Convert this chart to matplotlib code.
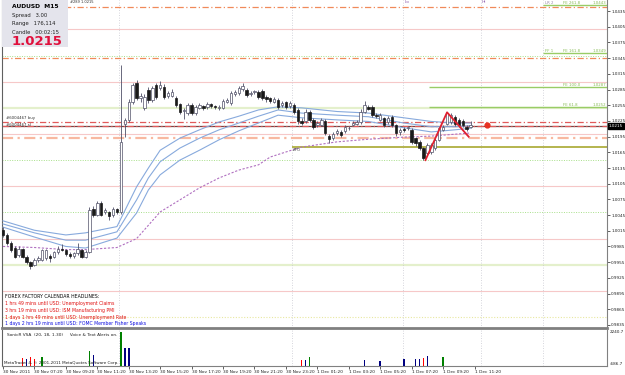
import matplotlib
matplotlib.use("Agg")
import matplotlib.pyplot as plt
import matplotlib.transforms as mtransforms
from matplotlib.patches import Rectangle

plt.rcParams["font.family"] = ["DejaVu Sans"]

# --- AUDUSD M15 candles (open, high, low, close) ---
opens = [1.0016, 1.0007, 0.9992, 0.9982, 0.9968, 0.9980, 0.9965, 0.9955, 0.9950, 0.9959,
         0.9960, 0.9962, 0.9966, 0.9965, 0.9974, 0.9980, 0.9978, 0.9970, 0.9967, 0.9972,
         0.9978, 0.9965, 0.9975, 1.0057, 1.0046, 1.0068, 1.0050, 1.0050, 1.0045, 1.0057,
         1.0050, 1.0220, 1.0227, 1.0262, 1.0297, 1.0269, 1.0250, 1.0284, 1.0265, 1.0294,
         1.0288, 1.0290, 1.0272, 1.0273, 1.0269, 1.0257, 1.0244, 1.0240, 1.0255, 1.0240,
         1.0250, 1.0253, 1.0251, 1.0257, 1.0253, 1.0250, 1.0250, 1.0262, 1.0259, 1.0276,
         1.0278, 1.0286, 1.0284, 1.0276, 1.0280, 1.0280, 1.0282, 1.0271, 1.0268, 1.0262,
         1.0265, 1.0255, 1.0261, 1.0253, 1.0256, 1.0246, 1.0225, 1.0225, 1.0243, 1.0227,
         1.0217, 1.0218, 1.0224, 1.0196, 1.0192, 1.0202, 1.0204, 1.0205, 1.0211, 1.0218,
         1.0220, 1.0223, 1.0243, 1.0251, 1.0252, 1.0237, 1.0227, 1.0230, 1.0223, 1.0233,
         1.0217, 1.0203, 1.0210, 1.0211, 1.0208, 1.0192, 1.0185, 1.0173, 1.0163, 1.0166,
         1.0173, 1.0189, 1.0208, 1.0220, 1.0222, 1.0233, 1.0227, 1.0225, 1.0214, 1.0214]
highs = [1.0022, 1.0010, 0.9995, 0.9986, 0.9985, 0.9983, 0.9968, 0.9957, 0.9962, 0.9966,
         0.9980, 0.9980, 0.9970, 0.9977, 0.9985, 0.9990, 0.9981, 0.9974, 0.9975, 0.9992,
         0.9981, 0.9978, 1.0060, 1.0062, 1.0072, 1.0071, 1.0058, 1.0053, 1.0060, 1.0059,
         1.0332, 1.0231, 1.0266, 1.0298, 1.0303, 1.0279, 1.0276, 1.0289, 1.0292, 1.0298,
         1.0301, 1.0295, 1.0283, 1.0286, 1.0273, 1.0260, 1.0250, 1.0260, 1.0259, 1.0255,
         1.0259, 1.0256, 1.0261, 1.0260, 1.0256, 1.0256, 1.0267, 1.0269, 1.0282, 1.0284,
         1.0291, 1.0297, 1.0288, 1.0283, 1.0285, 1.0284, 1.0286, 1.0275, 1.0271, 1.0271,
         1.0268, 1.0264, 1.0264, 1.0264, 1.0259, 1.0249, 1.0230, 1.0247, 1.0246, 1.0230,
         1.0225, 1.0231, 1.0228, 1.0200, 1.0204, 1.0209, 1.0207, 1.0218, 1.0216, 1.0224,
         1.0226, 1.0247, 1.0264, 1.0256, 1.0255, 1.0241, 1.0240, 1.0233, 1.0234, 1.0236,
         1.0220, 1.0212, 1.0214, 1.0216, 1.0211, 1.0195, 1.0188, 1.0176, 1.0182, 1.0183,
         1.0192, 1.0214, 1.0217, 1.0242, 1.0240, 1.0237, 1.0230, 1.0228, 1.0217, 1.0224]
lows = [1.0004, 0.9988, 0.9975, 0.9962, 0.9964, 0.9962, 0.9952, 0.9942, 0.9947, 0.9955,
        0.9957, 0.9960, 0.9955, 0.9962, 0.9971, 0.9976, 0.9967, 0.9963, 0.9963, 0.9969,
        0.9962, 0.9962, 0.9972, 1.0042, 1.0043, 1.0043, 1.0047, 1.0036, 1.0042, 1.0047,
        1.0047, 1.0194, 1.0222, 1.0258, 1.0265, 1.0262, 1.0246, 1.0260, 1.0261, 1.0267,
        1.0284, 1.0266, 1.0268, 1.0270, 1.0251, 1.0238, 1.0228, 1.0236, 1.0236, 1.0237,
        1.0247, 1.0246, 1.0248, 1.0249, 1.0247, 1.0246, 1.0247, 1.0259, 1.0256, 1.0273,
        1.0275, 1.0283, 1.0271, 1.0272, 1.0277, 1.0267, 1.0265, 1.0262, 1.0259, 1.0259,
        1.0248, 1.0251, 1.0248, 1.0250, 1.0238, 1.0220, 1.0217, 1.0221, 1.0223, 1.0210,
        1.0213, 1.0215, 1.0198, 1.0182, 1.0188, 1.0198, 1.0195, 1.0202, 1.0208, 1.0215,
        1.0217, 1.0220, 1.0240, 1.0245, 1.0232, 1.0230, 1.0224, 1.0213, 1.0220, 1.0213,
        1.0197, 1.0199, 1.0203, 1.0208, 1.0181, 1.0178, 1.0169, 1.0150, 1.0158, 1.0162,
        1.0170, 1.0186, 1.0205, 1.0217, 1.0219, 1.0216, 1.0213, 1.0213, 1.0206, 1.0211]
closes = [1.0007, 0.9992, 0.9978, 0.9965, 0.9980, 0.9965, 0.9955, 0.9948, 0.9959, 0.9963,
          0.9978, 0.9978, 0.9963, 0.9974, 0.9980, 0.9978, 0.9970, 0.9966, 0.9972, 0.9980,
          0.9965, 0.9975, 1.0055, 1.0046, 1.0068, 1.0046, 1.0055, 1.0043, 1.0057, 1.0050,
          1.0185, 1.0227, 1.0262, 1.0294, 1.0269, 1.0273, 1.0271, 1.0265, 1.0288, 1.0271,
          1.0294, 1.0271, 1.0278, 1.0281, 1.0255, 1.0242, 1.0246, 1.0255, 1.0240, 1.0251,
          1.0255, 1.0250, 1.0257, 1.0253, 1.0251, 1.0252, 1.0263, 1.0265, 1.0278, 1.0280,
          1.0288, 1.0292, 1.0275, 1.0279, 1.0282, 1.0271, 1.0269, 1.0266, 1.0263, 1.0267,
          1.0252, 1.0260, 1.0252, 1.0260, 1.0242, 1.0224, 1.0221, 1.0243, 1.0227, 1.0214,
          1.0221, 1.0227, 1.0202, 1.0191, 1.0200, 1.0206, 1.0199, 1.0214, 1.0212, 1.0221,
          1.0223, 1.0243, 1.0255, 1.0248, 1.0236, 1.0234, 1.0236, 1.0217, 1.0230, 1.0217,
          1.0201, 1.0208, 1.0207, 1.0213, 1.0185, 1.0182, 1.0173, 1.0154, 1.0179, 1.0179,
          1.0189, 1.0211, 1.0213, 1.0240, 1.0236, 1.0220, 1.0217, 1.0217, 1.0210, 1.0217]

# SonicR dragon (three blue EMAs) read at a few bars
ma_bars = [0, 8, 16, 21, 29, 34, 37, 40, 45, 50, 55, 60, 65, 70, 76, 85, 93, 102, 109, 115, 119]
ma_high = [1.0034, 1.0016, 1.0007, 1.0011, 1.0023, 1.0099, 1.0135, 1.0169, 1.0192, 1.0208, 1.0223,
           1.0234, 1.0246, 1.0252, 1.0250, 1.0243, 1.0240, 1.0231, 1.0224, 1.0221, 1.0221]
ma_mid = [1.0028, 1.0011, 0.9997, 0.9997, 1.0013, 1.0074, 1.0116, 1.0147, 1.0173, 1.0192, 1.0208,
          1.0221, 1.0234, 1.0246, 1.0240, 1.0236, 1.0233, 1.0221, 1.0214, 1.0214, 1.0216]
ma_low = [1.0022, 1.0003, 0.9985, 0.9982, 1.0001, 1.0049, 1.0093, 1.0122, 1.0150, 1.0169, 1.0189,
          1.0206, 1.0221, 1.0236, 1.0231, 1.0227, 1.0224, 1.0212, 1.0204, 1.0208, 1.0211]
# slow purple EMA
slow_bars = [0, 8, 16, 21, 29, 34, 40, 45, 50, 55, 60, 65, 68, 73, 76, 85, 93, 102, 109, 119]
slow_ma = [0.9985, 0.9983, 0.9979, 0.9979, 0.9983, 1.0000, 1.0051, 1.0074, 1.0097, 1.0116,
           1.0131, 1.0141, 1.0156, 1.0168, 1.0175, 1.0185, 1.0190, 1.0194, 1.0196, 1.0202]

# zigzag swing points
zz_bars = [107.5, 113, 118.5]
zz_prices = [1.0150, 1.02415, 1.01948]

# SonicR VSA volume bars (bar index, value, colour)
vol_bars = [5, 6, 7, 8, 10, 22, 23, 30, 31, 32, 76, 77, 78, 92, 96, 102, 105, 106, 107, 108, 112]
vol_values = [-60, -117, 9, -93, 9, 533, 208, 2102, 802, 777, -198, -198, 9, -198, -255,
              -141, -120, -100, -36, 151, 70]
vol_colors = ["red", "navy", "red", "red", "green", "green", "navy", "green", "navy", "navy",
              "red", "navy", "green", "navy", "navy", "navy", "navy", "navy", "red", "navy", "green"]

price_ticks = [0.9835, 0.9865, 0.9895, 0.9925, 0.9955, 0.9985, 1.0015, 1.0045, 1.0075, 1.0105,
               1.0135, 1.0165, 1.0195, 1.0225, 1.0255, 1.0285, 1.0315, 1.0345, 1.0375, 1.0405, 1.0435]
date_ticks = [0, 8, 16, 24, 32, 40, 48, 56, 64, 72, 80, 88, 96, 104, 112, 120]
date_labels = ["30 Nov 2011", "30 Nov 07:20", "30 Nov 09:20", "30 Nov 11:20", "30 Nov 13:20",
               "30 Nov 15:20", "30 Nov 17:20", "30 Nov 19:20", "30 Nov 21:20", "30 Nov 23:20",
               "1 Dec 01:20", "1 Dec 03:20", "1 Dec 05:20", "1 Dec 07:20", "1 Dec 09:20", "1 Dec 11:20"]

headlines = [
    ("FOREX FACTORY CALENDAR HEADLINES:", "black"),
    ("1 hrs 49 mins until USD: Unemployment Claims", "#e01010"),
    ("3 hrs 19 mins until USD: ISM Manufacturing PMI", "#e01010"),
    ("1 days 1 hrs 49 mins until USD: Unemployment Rate", "#e01010"),
    ("1 days 2 hrs 19 mins until USD: FOMC Member Fisher Speaks", "#1010e0"),
]

last_price = 1.0215
XMIN, XMAX = -0.25, 153.7
YMIN, YMAX = 0.98291, 1.04562

W, H = 625, 375
fig = plt.figure(figsize=(6.25, 3.75), dpi=100)
fig.patch.set_facecolor("white")
ax = fig.add_axes([2 / W, 47 / H, 605 / W, 328 / H])
axv = fig.add_axes([2 / W, 9 / H, 605 / W, 36 / H])

for a in (ax, axv):
    a.set_xlim(XMIN, XMAX)
    a.set_facecolor("white")
    for s in ("top",):
        a.spines[s].set_visible(False)
    a.spines["left"].set_color("#606060")
    a.spines["right"].set_color("#808080")
    a.spines["left"].set_linewidth(0.8)
    a.spines["right"].set_linewidth(0.8)

ax.set_ylim(YMIN, YMAX)
ax.spines["bottom"].set_color("#808080")
ax.spines["bottom"].set_linewidth(2)

# horizontal levels
ax_full = dict(xmin=0, xmax=1)
for lvl in (1.04, 1.03, 1.02, 1.01, 1.00, 0.99):
    ax.axhline(lvl, color="#f6c8c8", lw=0.8, zorder=1)
for lvl in (1.035, 1.015, 1.005):
    ax.axhline(lvl, color="#a8e08a", lw=0.7, ls=(0, (1, 1.5)), zorder=1)
for lvl in (1.025, 0.995):
    ax.axhline(lvl, color="#e4f0cc", lw=1.6, zorder=1)
ax.axhline(0.985, color="#e8e8a0", lw=0.8, ls=(0, (1, 1.5)), zorder=1)
for lvl in (1.0443, 1.0345):
    ax.axhline(lvl, color="#f08a5a", lw=0.9, ls=(0, (5, 2, 1, 2)), zorder=2)
ax.axhline(1.01933, color="#f8b8a0", lw=1.6, ls=(0, (5, 2, 1, 2)), zorder=2)
ax.axhline(last_price, color="#704848", lw=0.9, zorder=2)
for lvl in (1.0222, 1.0215):
    ax.axhline(lvl, color="#e05a5a", lw=0.9, ls=(0, (5, 2, 1, 2)), zorder=2)
ax.hlines(1.01757, 73.5, XMAX, color="#a8a830", lw=1.2, zorder=2)

# fibonacci expansion lines
ax.hlines([1.0446, 1.0354], 137.4, XMAX, color="#99cc66", lw=1.0, zorder=3)
ax.hlines([1.0289, 1.0252], 108.4, XMAX, color="#99cc66", lw=1.0, zorder=3)
fe_style = dict(fontsize=2.8, color="#88bb55", va="bottom")
ax.text(138, 1.0446, "LR 2", fontsize=2.8, color="#9988aa", va="bottom")
ax.text(142.5, 1.0446, "FE 261.8", **fe_style)
ax.text(150, 1.0446, "1.0443", **fe_style)
ax.text(138, 1.0354, "FF 1", **fe_style)
ax.text(142.5, 1.0354, "FE 161.8", **fe_style)
ax.text(150, 1.0354, "1.0349", **fe_style)
ax.text(142.5, 1.0289, "FE 100.0", **fe_style)
ax.text(150, 1.0289, "1.0287", **fe_style)
ax.text(142.5, 1.0252, "FE 61.8", **fe_style)
ax.text(150, 1.0252, "1.0252", **fe_style)

# vertical dotted separators
for vx in (29.5, 73.5, 101.8, 121.6, 137.4):
    for a in (ax, axv):
        a.axvline(vx, color="#c8c8d0", lw=0.6, ls=(0, (1, 2)), zorder=1)

# moving averages
for ma in (ma_high, ma_mid, ma_low):
    ax.plot(ma_bars, ma, color="#88aadd", lw=0.8, zorder=3)
ax.plot(slow_bars, slow_ma, color="#b070c0", lw=0.8, ls=(0, (2, 1.5)), zorder=3)

# candles
xs = list(range(len(opens)))
ax.vlines(xs, lows, highs, color="#505068", lw=0.6, zorder=4)
for i, (o, c) in enumerate(zip(opens, closes)):
    bottom = min(o, c)
    height = max(abs(c - o), 0.00012)
    bull = c >= o
    ax.bar(i, height, bottom=bottom, width=0.62,
           color="white" if bull else "#1a1a1a",
           edgecolor="#505068" if bull else "#1a1a1a", linewidth=0.5, zorder=5)

# zigzag and marker
ax.plot(zz_bars, zz_prices, color="#e02030", lw=1.3, zorder=6)
ax.plot([123.2], [1.0217], "o", color="#e83020", ms=3.5, zorder=6)

# order labels and misc text
ax.text(0.8, 1.0226, "#6004467 buy", fontsize=2.8, color="#303030", va="bottom", zorder=7)
ax.text(0.8, 1.0213, "#6004467 sl", fontsize=2.8, color="#303030", va="bottom", zorder=7)
ax.text(73.8, 1.0174, "ZPO", fontsize=2.8, color="#404040", va="top", zorder=7)
ax.text(102.2, 1.0448, "Lo", fontsize=3.2, color="#9060b0", va="bottom")
ax.text(121.9, 1.0448, "Hi", fontsize=3.2, color="#9060b0", va="bottom")
ax.text(17, 1.0448, "#289 1.0215", fontsize=2.6, color="#303030", va="bottom")

# price axis
ax.yaxis.tick_right()
ax.set_yticks(price_ticks)
ax.set_yticklabels([f"{t:.4f}" for t in price_ticks])
ax.tick_params(axis="y", labelsize=3.0, length=2, width=0.5, pad=1, colors="#202020")
ax.set_xticks([])
trans = mtransforms.blended_transform_factory(ax.transAxes, ax.transData)
ax.text(1.003, last_price, f"{last_price:.4f}", transform=trans, fontsize=3.0, color="white",
        va="center", ha="left", zorder=8,
        bbox=dict(boxstyle="square,pad=0.25", facecolor="black", edgecolor="black"))

# forex factory headlines
for k, (txt, col) in enumerate(headlines):
    fig.text(5 / W, 1 - (297 + 6.7 * k) / H, txt, fontsize=3.3, color=col, va="center")

# info box
fig.patches.append(Rectangle((2 / W, 1 - 47 / H), 66 / W, 47 / H, transform=fig.transFigure,
                             facecolor="#e4e4ec", edgecolor="none", zorder=0))
fig.text(12 / W, 1 - 6 / H, "AUDUSD  M15", fontsize=4.3, fontweight="bold", va="center")
fig.text(12 / W, 1 - 15 / H, "Spread   3.00", fontsize=3.8, va="center", color="#202020")
fig.text(12 / W, 1 - 23.5 / H, "Range   176,114", fontsize=3.8, va="center", color="#202020")
fig.text(12 / W, 1 - 32 / H, "Candle   00:02:15", fontsize=3.8, va="center", color="#202020")
fig.text(12 / W, 1 - 41.5 / H, "1.0215", fontsize=9.5, fontweight="bold", va="center",
         color="#e0103c")

# volume panel
axv.set_ylim(-686.7, 2240.7)
axv.spines["bottom"].set_color("#808080")
axv.bar(vol_bars, [v + 686.7 for v in vol_values], bottom=-686.7, width=0.4,
        color=vol_colors, zorder=3)
axv.yaxis.tick_right()
axv.set_yticks([2240.7, -686.7])
axv.set_yticklabels(["2240.7", "-686.7"])
axv.tick_params(axis="y", labelsize=3.0, length=0, pad=2, colors="#202020")
axv.get_yticklabels()[0].set_va("top")
axv.get_yticklabels()[1].set_va("bottom")
axv.set_xticks(date_ticks)
axv.set_xticklabels(date_labels, ha="left")
axv.tick_params(axis="x", labelsize=3.1, length=2, width=0.5, pad=1, colors="#202020")
axv.text(1, 2000, "SonicR VSA  (20, 18, 1.30)     Voice & Text Alerts on.", fontsize=3.1,
         va="top", color="#202020")
axv.text(0.2, -450, "MetaTrader 4, \u00a9 2001-2011 MetaQuotes Software Corp.", fontsize=3.0,
         va="center", color="#202020", zorder=4)

fig.savefig("out.png", dpi=100)
